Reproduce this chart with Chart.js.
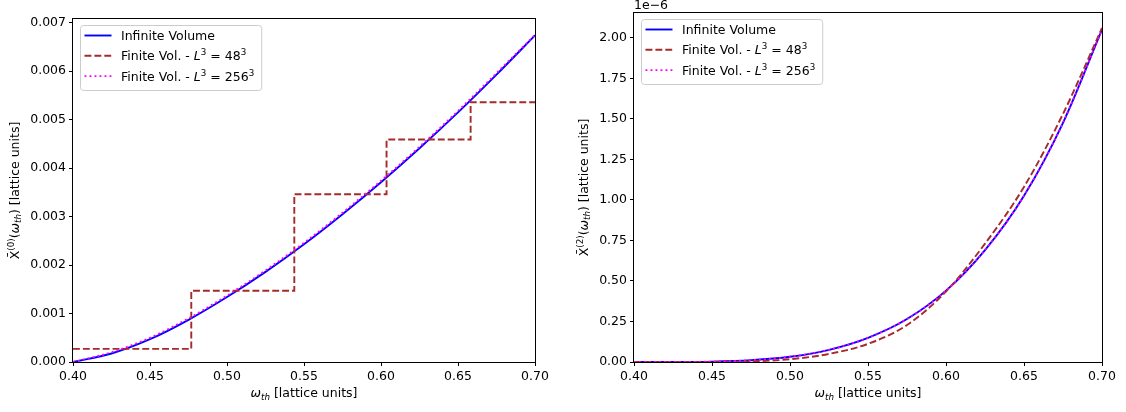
<!DOCTYPE html>
<html><head><meta charset="utf-8">
<script src="https://cdn.jsdelivr.net/npm/chart.js@4/dist/chart.umd.min.js"></script>
<style>
html,body{margin:0;padding:0;background:#fff;}
#wrap{position:relative;width:1126px;height:412px;overflow:hidden;}
canvas{position:absolute;top:0;}
</style></head><body>
<div id="wrap">
<canvas id="c0" width="563" height="412" style="left:0"></canvas>
<canvas id="c2" width="563" height="412" style="left:563px"></canvas>
</div>
<script>
// ---------- data ----------
const xTicks = [0.40, 0.45, 0.50, 0.55, 0.60, 0.65, 0.70];
const yTicksLeft = [0, 0.001, 0.002, 0.003, 0.004, 0.005, 0.006, 0.007];
const yTicksRight = [0, 0.25e-6, 0.50e-6, 0.75e-6, 1.00e-6, 1.25e-6, 1.50e-6, 1.75e-6, 2.00e-6];

// left panel: X^(0)
const omegaL = [0.400, 0.425, 0.450, 0.475, 0.500, 0.525, 0.550, 0.575, 0.600, 0.625, 0.650, 0.675, 0.700];
const infVolL = [0, 0.000175, 0.00047, 0.00087, 0.00134, 0.00186, 0.00243, 0.00305, 0.00371, 0.00441, 0.00515, 0.00593, 0.00674];
const fin256L = [0, 0.00020, 0.00050, 0.00090, 0.00137, 0.00189, 0.00246, 0.00308, 0.00374, 0.00444, 0.00518, 0.00596, 0.00675];
const stepX48L = [0.400, 0.4768, 0.5437, 0.6036, 0.6582, 0.700];
const stepY48L = [0.00027, 0.00147, 0.00346, 0.00459, 0.00536, 0.00536];

// right panel: X^(2)
const omegaR = [0.400, 0.425, 0.450, 0.475, 0.500, 0.525, 0.550, 0.575, 0.600, 0.625, 0.650, 0.675, 0.700];
const infVolR = [0, 0.0002e-6, 0.0023e-6, 0.011e-6, 0.032e-6, 0.075e-6, 0.149e-6, 0.265e-6, 0.440e-6, 0.690e-6, 1.025e-6, 1.475e-6, 2.050e-6];
const fin48R  = [0, 0, 0.0005e-6, 0.004e-6, 0.017e-6, 0.050e-6, 0.112e-6, 0.228e-6, 0.435e-6, 0.730e-6, 1.080e-6, 1.530e-6, 2.060e-6];
const fin256R = [0, 0.0002e-6, 0.0023e-6, 0.011e-6, 0.032e-6, 0.075e-6, 0.149e-6, 0.265e-6, 0.440e-6, 0.690e-6, 1.025e-6, 1.475e-6, 2.050e-6];

const seriesNames = ['Infinite Volume', 'Finite Vol. - L^3 = 48^3', 'Finite Vol. - L^3 = 256^3'];

// ---------- style ----------
const FONT = '"DejaVu Sans", sans-serif';
const FS = 12.5;
const BLUE = '#0000ff', BROWN = '#a52a2a', MAG = '#ff00ff';
const LW = 1.9;
const DASH = [6.9, 3.0], DOT = [1.9, 3.1];

function pts(xs, ys) { return xs.map((x, i) => ({ x: x, y: ys[i] })); }

function fontOf(s, size) {
  const sz = (s.sup || s.sub) ? size * 0.7 : size;
  return (s.it ? 'italic ' : '') + sz + 'px ' + FONT;
}
function richWidth(ctx, segs, size) {
  let w = 0;
  for (const s of segs) { ctx.font = fontOf(s, size); w += ctx.measureText(s.t).width; }
  return w;
}
function drawRich(ctx, segs, x, y, size, align) {
  const w = richWidth(ctx, segs, size);
  let cx = align === 'center' ? x - w / 2 : (align === 'right' ? x - w : x);
  ctx.textAlign = 'left'; ctx.textBaseline = 'alphabetic'; ctx.fillStyle = '#000';
  for (const s of segs) {
    ctx.font = fontOf(s, size);
    const dy = s.sup ? -size * 0.4 : (s.sub ? size * 0.22 : 0);
    ctx.fillText(s.t, cx, y + dy);
    cx += ctx.measureText(s.t).width;
  }
  return w;
}

const legendSegs = [
  [{ t: 'Infinite Volume' }],
  [{ t: 'Finite Vol. - ' }, { t: 'L', it: true }, { t: '3', sup: true }, { t: ' = 48' }, { t: '3', sup: true }],
  [{ t: 'Finite Vol. - ' }, { t: 'L', it: true }, { t: '3', sup: true }, { t: ' = 256' }, { t: '3', sup: true }]
];
const legendStyles = [
  { color: BLUE, dash: [] }, { color: BROWN, dash: DASH }, { color: MAG, dash: DOT }
];

function roundRect(ctx, x, y, w, h, r) {
  ctx.beginPath();
  ctx.moveTo(x + r, y); ctx.lineTo(x + w - r, y); ctx.quadraticCurveTo(x + w, y, x + w, y + r);
  ctx.lineTo(x + w, y + h - r); ctx.quadraticCurveTo(x + w, y + h, x + w - r, y + h);
  ctx.lineTo(x + r, y + h); ctx.quadraticCurveTo(x, y + h, x, y + h - r);
  ctx.lineTo(x, y + r); ctx.quadraticCurveTo(x, y, x + r, y); ctx.closePath();
}

function decorPlugin(cfg) {
  return {
    id: 'decor',
    afterDraw(chart) {
      const ctx = chart.ctx, a = chart.chartArea;
      ctx.save();
      // frame
      ctx.strokeStyle = '#000'; ctx.lineWidth = 1; ctx.setLineDash([]);
      ctx.strokeRect(Math.round(a.left) - 0.5, Math.round(a.top) - 0.5, Math.round(a.right - a.left) + 1, Math.round(a.bottom - a.top) + 1);
      // legend
      let maxW = 0;
      for (const s of legendSegs) maxW = Math.max(maxW, richWidth(ctx, s, FS));
      const bx = a.left + 7, by = a.top + 6, bw = 41 + maxW + 7, bh = 65;
      roundRect(ctx, bx + 0.5, by + 0.5, bw, bh, 3);
      ctx.fillStyle = 'rgba(255,255,255,0.8)'; ctx.fill();
      ctx.strokeStyle = '#cccccc'; ctx.lineWidth = 1; ctx.stroke();
      for (let i = 0; i < 3; i++) {
        const yc = by + 10.5 + i * 20.3;
        ctx.beginPath(); ctx.setLineDash(legendStyles[i].dash);
        ctx.strokeStyle = legendStyles[i].color; ctx.lineWidth = LW;
        ctx.moveTo(bx + 4.5, yc); ctx.lineTo(bx + 31.5, yc); ctx.stroke();
        ctx.setLineDash([]);
        drawRich(ctx, legendSegs[i], bx + 41, yc + 4.6, FS, 'left');
      }
      // x title
      drawRich(ctx, [{ t: 'ω', it: true }, { t: 'th', it: true, sub: true }, { t: ' [lattice units]' }],
        (a.left + a.right) / 2, 397, FS, 'center');
      // y title
      ctx.save();
      ctx.translate(cfg.yTitleX, (a.top + a.bottom) / 2);
      ctx.rotate(-Math.PI / 2);
      drawRich(ctx, [{ t: 'X\u0304' }, { t: '(' + cfg.order + ')', sup: true }, { t: '(' }, { t: 'ω', it: true }, { t: 'th', it: true, sub: true }, { t: ') [lattice units]' }],
        0, 4.5, FS, 'center');
      ctx.restore();
      // offset text
      if (cfg.offset) {
        ctx.font = FS + 'px ' + FONT; ctx.fillStyle = '#000'; ctx.textAlign = 'left'; ctx.textBaseline = 'alphabetic';
        ctx.fillText(cfg.offset, a.left, a.top - 4);
      }
      ctx.restore();
    }
  };
}

function makeChart(id, datasets, yTicks, yMax, yFmt, cfg) {
  const tickFont = { family: FONT, size: FS };
  return new Chart(document.getElementById(id), {
    type: 'line',
    data: { datasets: datasets },
    options: {
      responsive: false, animation: false, devicePixelRatio: 1,
      layout: { padding: { left: 0, top: cfg.top, right: cfg.right, bottom: 0 } },
      plugins: { legend: { display: false }, tooltip: { enabled: false } },
      elements: { point: { radius: 0 } },
      scales: {
        x: {
          type: 'linear', min: 0.4, max: 0.7,
          afterBuildTicks: s => { s.ticks = xTicks.map(v => ({ value: v })); },
          afterFit: s => { s.height = 50; },
          ticks: { font: tickFont, color: '#000', padding: 3, maxRotation: 0, callback: v => v.toFixed(2) },
          grid: { display: true, drawOnChartArea: false, drawTicks: true, tickLength: 4, color: '#000', lineWidth: 1 },
          border: { display: false }
        },
        y: {
          type: 'linear', min: 0, max: yMax,
          afterBuildTicks: s => { s.ticks = yTicks.map(v => ({ value: v })); },
          afterFit: s => { s.width = cfg.left; },
          ticks: { font: tickFont, color: '#000', padding: 3, callback: yFmt },
          grid: { display: true, drawOnChartArea: false, drawTicks: true, tickLength: 4, color: '#000', lineWidth: 1 },
          border: { display: false }
        }
      }
    },
    plugins: [decorPlugin(cfg)]
  });
}

makeChart('c0', [
  { label: seriesNames[0], data: pts(omegaL, infVolL), borderColor: BLUE, borderWidth: LW, cubicInterpolationMode: 'monotone', order: 3 },
  { label: seriesNames[1], data: pts(stepX48L, stepY48L), borderColor: BROWN, borderWidth: LW, borderDash: DASH, stepped: 'before', order: 2 },
  { label: seriesNames[2], data: pts(omegaL, fin256L), borderColor: MAG, borderWidth: LW, borderDash: DOT, cubicInterpolationMode: 'monotone', order: 1 }
], yTicksLeft, 0.007077, v => v.toFixed(3), { left: 73, top: 19, right: 28, yTitleX: 14, order: 0 });

makeChart('c2', [
  { label: seriesNames[0], data: pts(omegaR, infVolR), borderColor: BLUE, borderWidth: LW, cubicInterpolationMode: 'monotone', order: 3 },
  { label: seriesNames[1], data: pts(omegaR, fin48R), borderColor: BROWN, borderWidth: LW, borderDash: DASH, cubicInterpolationMode: 'monotone', order: 2 },
  { label: seriesNames[2], data: pts(omegaR, fin256R), borderColor: MAG, borderWidth: LW, borderDash: DOT, cubicInterpolationMode: 'monotone', order: 1 }
], yTicksRight, 2.1525e-6, v => (v / 1e-6).toFixed(2), { left: 71, top: 13, right: 24, yTitleX: 20, order: 2, offset: '1e\u22126' });
</script>
</body></html>
